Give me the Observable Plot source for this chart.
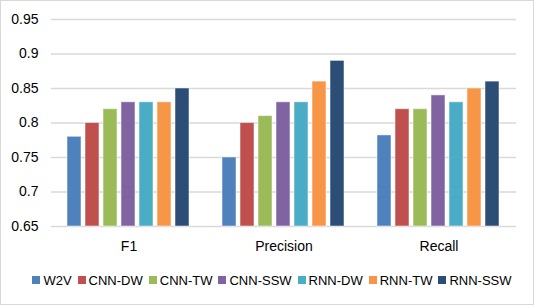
<!DOCTYPE html>
<html><head><meta charset="utf-8">
<script src="https://cdn.jsdelivr.net/npm/d3@7"></script>
<script src="https://cdn.jsdelivr.net/npm/@observablehq/plot@0.6"></script>
<style>
body{margin:0;background:#fff;}
#wrap{position:relative;width:534px;height:305px;overflow:hidden;font-family:Arial,"Liberation Sans",sans-serif;background:#fff}
#frame{position:absolute;left:0;top:0;width:534px;height:305px;box-sizing:border-box;border:1.5px solid #d9d9d9;pointer-events:none}
#legend{position:absolute;left:5px;top:272px;width:534px;height:16px;display:flex;justify-content:center;align-items:center;font-size:13px;color:#000;white-space:nowrap}
.item{display:flex;align-items:center;margin:0 3px}
.sw{width:8px;height:8px;margin-right:3px;flex:none}
</style></head>
<body><div id="wrap"><div id="chart"></div><div id="legend"></div><div id="frame"></div></div>
<script>
const metrics = ["F1", "Precision", "Recall"];
const models = ["W2V", "CNN-DW", "CNN-TW", "CNN-SSW", "RNN-DW", "RNN-TW", "RNN-SSW"];
const colors = ["#4F81BD", "#C0504D", "#9BBB59", "#8064A2", "#4BACC6", "#F79646", "#2C4D75"];
const f1Values = [0.78, 0.80, 0.82, 0.83, 0.83, 0.83, 0.85];
const precisionValues = [0.75, 0.80, 0.81, 0.83, 0.83, 0.86, 0.89];
const recallValues = [0.782, 0.82, 0.82, 0.84, 0.83, 0.85, 0.86];
const yTicks = [0.65, 0.7, 0.75, 0.8, 0.85, 0.9, 0.95];

const series = [f1Values, precisionValues, recallValues];
const data = [];
metrics.forEach((m, i) => models.forEach((s, j) => data.push({metric: m, model: s, value: series[i][j]})));

const chart = Plot.plot({
  width: 534,
  height: 262,
  marginTop: 19,
  marginBottom: 36,
  marginLeft: 51,
  marginRight: 18,
  style: {fontSize: "14px", fontFamily: "Arial, 'Liberation Sans', sans-serif", color: "#000", background: "transparent"},
  fx: {domain: metrics, padding: 0, label: null, axis: "bottom", tickSize: 0, tickPadding: 15},
  x: {domain: models, paddingInner: 0.22, paddingOuter: 0.85, axis: null},
  y: {domain: [0.65, 0.95], ticks: yTicks, tickSize: 0, tickPadding: 13, label: null, tickFormat: d => String(+d.toFixed(2))},
  color: {domain: models, range: colors},
  marks: [
    Plot.ruleY(yTicks, {stroke: "#d9d9d9", strokeWidth: 1.5}),
    Plot.barY(data, {fx: "metric", x: "model", y1: 0.65, y2: "value", fill: "model", stroke: "white", strokeOpacity: 0.5, strokeWidth: 1})
  ]
});
document.getElementById("chart").appendChild(chart);

const legend = document.getElementById("legend");
models.forEach((m, i) => {
  const it = document.createElement("div");
  it.className = "item";
  const sw = document.createElement("div");
  sw.className = "sw";
  sw.style.background = colors[i];
  const t = document.createElement("span");
  t.textContent = m;
  it.appendChild(sw); it.appendChild(t);
  legend.appendChild(it);
});
</script>
</body></html>
